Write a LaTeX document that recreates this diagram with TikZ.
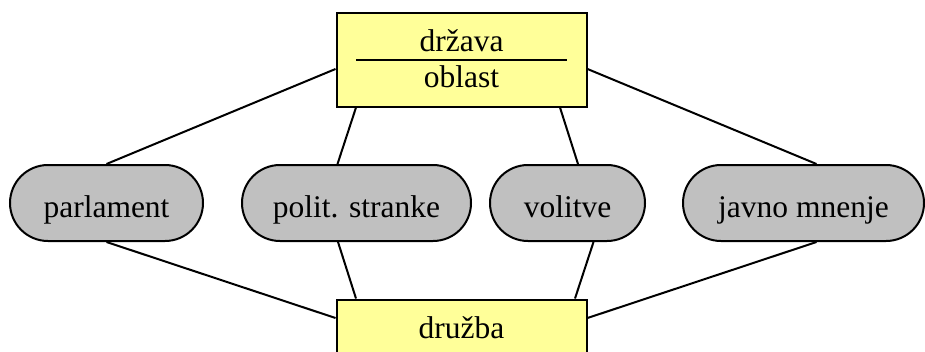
\documentclass[tikz,border=0pt]{standalone}
\usepackage{fontspec}
\setmainfont{Liberation Serif}
\newfontfamily\serifa{Liberation Serif}
\usepackage{xcolor}
\usepackage{tikz}
\usetikzlibrary{shapes.misc}
\definecolor{rumena}{HTML}{FFFF99}
\definecolor{siva}{HTML}{C0C0C0}

\begin{document}
\begin{tikzpicture}[x=1pt,y=-1pt,
    every node/.style={font=\serifa\fontsize{31.5pt}{38pt}\selectfont},
    okvir/.style={draw,line width=2pt,fill=rumena,minimum width=250pt,minimum height=94pt},
    pojem/.style={draw,line width=2pt,fill=siva,rounded rectangle,minimum height=76pt,
                  text height=28pt,text depth=0pt,inner sep=0pt},
    povezava/.style={line width=2pt}]
  \useasboundingbox (0,0) rectangle (925,351);
  \clip (0,0) rectangle (925,351);

  \node[okvir] (drzava) at (461.5,59.5) {};
  \node[anchor=base] (drzavaime) at (461.5,51.7) {država};
  \node[anchor=base] (oblast) at (461.5,87.3) {oblast};
  \draw[line width=2pt] ([xshift=-105.5pt]drzava.center) -- ([xshift=105.5pt]drzava.center);

  \node[okvir] (druzba) at (461.5,346.5) {};
  \node[anchor=base] (druzbaime) at (461.5,338.3) {družba};

  \node[pojem,minimum width=193pt] (parlament) at (106.5,203) {parlament};
  \node[pojem,minimum width=229pt] (stranke) at (356.5,203) {polit. stranke};
  \node[pojem,minimum width=155pt] (volitve) at (567.5,203) {volitve};
  \node[pojem,minimum width=241pt] (mnenje) at (803.5,203) {javno mnenje};

  \path[povezava]
    (parlament.north) edge ([yshift=-9.5pt]drzava.west)
    (parlament.south) edge ([yshift=28.5pt]druzba.west)
    ([xshift=-19pt]stranke.north) edge ([xshift=-105.5pt]drzava.south)
    ([xshift=-18.5pt]stranke.south) edge ([xshift=-105.5pt]druzba.north)
    ([xshift=10.5pt]volitve.north) edge ([xshift=98.5pt]drzava.south)
    ([xshift=26pt]volitve.south) edge ([xshift=113.5pt]druzba.north)
    ([xshift=13pt]mnenje.north) edge ([yshift=-9.5pt]drzava.east)
    ([xshift=13pt]mnenje.south) edge ([yshift=28.5pt]druzba.east);
\end{tikzpicture}
\end{document}
